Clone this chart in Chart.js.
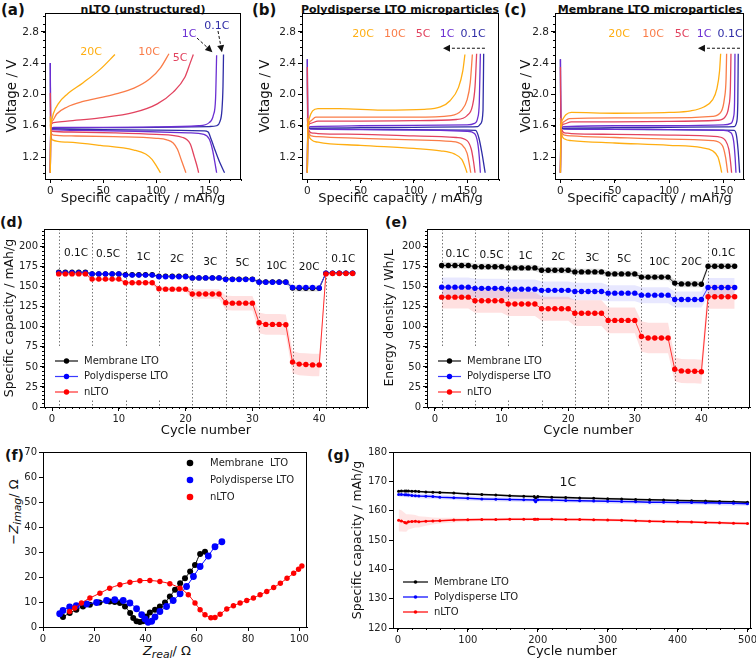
<!DOCTYPE html>
<html>
<head>
<meta charset="utf-8">
<script src="https://cdn.jsdelivr.net/npm/chart.js@4.4.0/dist/chart.umd.min.js"></script>
<style>
  body { margin:0; background:#fff; width:756px; height:660px; position:relative; overflow:hidden; font-family:"DejaVu Sans", sans-serif; color:#111; }
  canvas { position:absolute; }
  .lbl { position:absolute; font-weight:bold; font-size:15px; line-height:1; }
  .ttl { position:absolute; font-weight:bold; font-size:11px; text-align:center; white-space:nowrap; }
  .axt { position:absolute; font-size:13px; white-space:nowrap; }
</style>
</head>
<body>
<div class="lbl" style="left:1px;top:3px">(a)</div>
<div class="lbl" style="left:252px;top:3px">(b)</div>
<div class="lbl" style="left:504px;top:3px">(c)</div>
<div class="lbl" style="left:0px;top:215px;font-size:14px">(d)</div>
<div class="lbl" style="left:385px;top:215px;font-size:14px">(e)</div>
<div class="lbl" style="left:5px;top:448px;font-size:14px">(f)</div>
<div class="lbl" style="left:327px;top:448px;font-size:14px">(g)</div>
<div class="ttl" style="left:43px;width:200px;top:3px">nLTO (unstructured)</div>
<div class="ttl" style="left:300px;width:200px;top:3px">Polydisperse LTO microparticles</div>
<div class="ttl" style="left:550px;width:200px;top:3px">Membrane LTO microparticles</div>
<div class="axt" style="left:167px;top:652px;transform:translate(-50%,-50%)"><i>Z</i><sub><i>real</i></sub>/ Ω</div>
<div class="axt" style="left:15px;top:512px;transform:translate(-50%,-50%) rotate(-90deg)">−<i>Z</i><sub><i>imag</i></sub>/ Ω</div>

<canvas id="ca" width="250" height="208" style="left:0;top:0"></canvas>
<canvas id="cb" width="250" height="208" style="left:255px;top:0"></canvas>
<canvas id="cc" width="240" height="208" style="left:516px;top:0"></canvas>
<canvas id="cd" width="378" height="240" style="left:0;top:200px"></canvas>
<canvas id="ce" width="376" height="240" style="left:380px;top:200px"></canvas>
<canvas id="cf" width="320" height="220" style="left:0;top:440px"></canvas>
<canvas id="cg" width="408" height="220" style="left:348px;top:440px"></canvas>

<script>
// rates used in panels a-c
const rateNames = ['20C', '10C', '5C', '1C', '0.1C'];
const rateColors = ['#ffae12', '#fa7c48', '#e2435f', '#6b2fd2', '#2e2ca6'];

// (a) nLTO voltage curves, [capacity mAh/g, voltage V]
const nlto20Ch = [[0,1.0],[0.5,1.6],[1.5,1.68],[3,1.76],[8,1.89],[15.7,2.0],[31,2.15],[47,2.32],[61,2.51]];
const nlto20Dis = [[0,1.72],[0.5,1.5],[2,1.42],[16,1.39],[47,1.35],[79,1.29],[90,1.24],[96,1.17],[100,1.09],[104,1.0]];
const nlto10Ch = [[0,1.0],[0.5,1.58],[2,1.66],[6,1.75],[16,1.84],[31,1.91],[47,1.96],[63,2.01],[79,2.08],[94,2.2],[104,2.34],[112,2.52]];
const nlto10Dis = [[0,1.62],[0.5,1.52],[3,1.48],[20,1.47],[60,1.46],[100,1.44],[110,1.42],[116,1.38],[120,1.3],[124,1.15],[128,1.0]];
const nlto5Ch = [[0,1.0],[0.5,1.6],[3,1.64],[16,1.66],[47,1.7],[79,1.77],[101,1.88],[116,2.03],[127,2.22],[132,2.4],[135,2.51]];
const nlto5Dis = [[0,2.02],[0.4,1.6],[2,1.53],[20,1.52],[60,1.51],[100,1.49],[125,1.45],[132,1.37],[136,1.2],[139,1.06],[140,1.0]];
const nlto1Ch = [[0,1.0],[0.4,1.55],[3,1.58],[50,1.58],[100,1.585],[140,1.6],[150,1.64],[154,1.74],[156,1.95],[157,2.5]];
const nlto1Dis = [[0,2.4],[0.3,1.65],[2,1.55],[30,1.54],[80,1.53],[130,1.51],[145,1.49],[150,1.43],[153,1.3],[155.5,1.12],[157,1.0]];
const nlto01Ch = [[0,1.0],[0.4,1.55],[3,1.57],[50,1.575],[100,1.58],[150,1.59],[157,1.6],[160,1.65],[162,1.8],[163,2.1],[163.5,2.51]];
const nlto01Dis = [[0,2.4],[0.3,1.62],[2,1.56],[50,1.55],[100,1.545],[145,1.535],[149,1.52],[152,1.42],[156,1.27],[160,1.13],[164.5,1.0]];

// (b) polydisperse LTO
const pd20Ch = [[0,1.0],[0.5,1.5],[2,1.7],[5,1.79],[10,1.82],[30,1.82],[70,1.8],[110,1.81],[125,1.84],[134,1.92],[142,2.09],[146,2.3],[148,2.51]];
const pd20Dis = [[0,1.62],[1,1.5],[4,1.42],[10,1.39],[50,1.35],[100,1.31],[125,1.28],[138,1.24],[145,1.17],[148,1.08],[150,1.0]];
const pd10Ch = [[0,1.0],[0.5,1.55],[3,1.66],[8,1.71],[50,1.71],[100,1.71],[135,1.73],[145,1.8],[150,1.93],[153,2.15],[155,2.51]];
const pd10Dis = [[0,1.7],[1,1.52],[4,1.47],[10,1.46],[50,1.44],[100,1.42],[135,1.4],[145,1.36],[150,1.25],[152,1.12],[153.5,1.0]];
const pd5Ch = [[0,1.0],[0.5,1.57],[3,1.63],[10,1.66],[50,1.66],[100,1.665],[140,1.68],[150,1.73],[155,1.85],[157.5,2.1],[159,2.52]];
const pd5Dis = [[0,2.35],[0.5,1.6],[4,1.51],[10,1.5],[50,1.49],[100,1.47],[140,1.45],[150,1.41],[154,1.3],[156,1.15],[157.5,1.0]];
const pd1Ch = [[0,1.0],[0.5,1.56],[3,1.59],[50,1.6],[100,1.605],[150,1.61],[157,1.63],[160,1.7],[161.5,1.9],[162.5,2.52]];
const pd1Dis = [[0,2.45],[0.4,1.62],[3,1.56],[50,1.55],[100,1.545],[150,1.53],[157,1.5],[160,1.38],[161.5,1.2],[162.5,1.0]];
const pd01Ch = [[0,1.0],[0.4,1.55],[3,1.57],[50,1.575],[100,1.58],[150,1.585],[160,1.59],[163,1.63],[165,1.8],[165.6,2.52]];
const pd01Dis = [[0,2.45],[0.3,1.62],[3,1.56],[50,1.555],[100,1.55],[150,1.545],[158,1.54],[161,1.45],[164,1.25],[167,1.0]];

// (c) membrane LTO
const mb20Ch = [[0,1.0],[0.5,1.55],[2,1.68],[5,1.74],[10,1.77],[50,1.76],[100,1.77],[120,1.79],[132,1.84],[140,1.93],[144,2.07],[146.5,2.3],[147.5,2.52]];
const mb20Dis = [[0,1.62],[1,1.5],[4,1.43],[10,1.41],[50,1.38],[100,1.35],[130,1.32],[140,1.28],[145,1.2],[147,1.1],[148.5,1.0]];
const mb10Ch = [[0,1.0],[0.5,1.55],[3,1.65],[8,1.69],[50,1.7],[100,1.7],[140,1.72],[148,1.78],[151,1.95],[152.5,2.2],[153,2.52]];
const mb10Dis = [[0,1.7],[1,1.52],[4,1.48],[10,1.47],[50,1.45],[100,1.43],[140,1.41],[149,1.35],[152,1.2],[154,1.0]];
const mb5Ch = [[0,1.0],[0.5,1.57],[3,1.62],[10,1.65],[50,1.65],[100,1.655],[145,1.67],[152,1.72],[155,1.85],[156.5,2.1],[157,2.52]];
const mb5Dis = [[0,2.35],[0.5,1.6],[4,1.51],[10,1.5],[50,1.49],[100,1.48],[145,1.46],[152,1.41],[155,1.3],[156.5,1.15],[157.6,1.0]];
const mb1Ch = [[0,1.0],[0.5,1.56],[3,1.59],[50,1.6],[100,1.6],[150,1.61],[157,1.63],[159.5,1.72],[160.3,1.9],[160.7,2.52]];
const mb1Dis = [[0,2.45],[0.4,1.62],[3,1.56],[50,1.555],[100,1.55],[150,1.54],[157,1.51],[159.5,1.4],[160.8,1.2],[161.6,1.0]];
const mb01Ch = [[0,1.0],[0.4,1.55],[3,1.57],[50,1.575],[100,1.58],[150,1.585],[160,1.59],[162.3,1.65],[163.3,1.9],[163.7,2.52]];
const mb01Dis = [[0,2.45],[0.3,1.62],[3,1.56],[50,1.555],[100,1.55],[150,1.545],[160,1.54],[162,1.48],[163.5,1.3],[165,1.0]];

// (d) specific capacity vs cycle (mAh/g), 5 cycles per rate
const rateSteps = ['0.1C', '0.5C', '1C', '2C', '3C', '5C', '10C', '20C', '0.1C'];
const rateStarts = [1, 6, 11, 16, 21, 26, 31, 36, 41];
const dMem = [168,168,168,168,168, 166,166,166,166,166, 165,165,165,165,165, 163,163,163,163,163, 161,161,161,161,161, 159.5,159.5,159.5,159.5,159.5, 156,156,156,156,156, 148.5,148,148,148,148, 167,167,167,167,167];
const dPoly = [167.5,167.5,167.5,167.5,167.5, 166,166,166,166,166, 164.5,164.5,164.5,164.5,164.5, 162.5,162.5,162.5,162.5,162.5, 161,161,161,161,161, 159,159,159,159,159, 155.5,155.5,155.5,155.5,155.5, 149,149,149,149,148.5, 167,167,167,167,167];
const dNlto = [166,166,166,166,166, 159.5,159.5,159.5,159.5,159.5, 155,155,155,155,155, 147.5,147,147,147,147, 141,141,141,141,141, 130,129.5,129.5,129.5,129.5, 105,103,103,103,102.5, 56,53.5,53,52.5,52.5, 166,166.5,166.5,166.5,166.5];
const dMemStd = [1.5, 1.5, 1.5, 1.5, 2, 2, 2.5, 4, 1.5];
const dPolyStd = [1, 1, 1, 1, 1, 1, 1.5, 2, 1];
const dNltoStd = [2, 2, 2.5, 3, 6, 9, 13, 14, 2];

// (e) energy density vs cycle (Wh/L)
const eMem = [176.5,176.5,176.5,176.5,176.5, 175,175,175,175,175, 173.5,173.5,173.5,173.5,173.5, 170.5,170.5,170.5,170.5,170.5, 168.5,168.5,168.5,168.5,168.5, 166,166,166,166,166, 162,162,162,162,162, 154.5,153.5,153.5,153.5,153, 175.5,175.5,175.5,175.5,175.5];
const ePoly = [149.5,149.5,149.5,149.5,149.5, 148,148,148,148,148, 147,147,147,147,147, 145.5,145.5,145.5,145.5,145.5, 144,144,144,144,144, 142,142,142,142,142, 139.5,139.5,139.5,139.5,139.5, 134,134,134,134,134, 149,149,149,149,149];
const eNlto = [137,137,137,137,137, 132.5,132.5,132.5,132.5,132.5, 128.5,128.5,128.5,128.5,128.5, 122.5,122.5,122.5,122.5,122.5, 117,117,117,117,117, 108,108,108,108,108, 88,86,86,86,86, 47,45,44.5,44.5,44, 137.5,137.5,137.5,137.5,137.5];
const eMemStd = [4, 4, 4, 4, 4, 4, 4, 4, 4];
const ePolyStd = [12, 12, 12, 11, 11, 10, 10, 10, 12];
const eNltoStd = [14, 15, 15, 15, 16, 16, 19, 15, 15];

// (f) Nyquist plot, [Z_real, -Z_imag] in ohm
const fMem = [[7.8,4.0],[10.4,5.6],[13,6.9],[15.6,8.2],[18.3,8.9],[22,9.8],[26,10.2],[28,10],[30,9.6],[32,8.2],[34,5.6],[35.2,3.6],[36.5,2.3],[37.8,2],[39,2.3],[40.4,4.2],[41.7,5.8],[43.7,6.9],[45.6,8.2],[47.6,9.8],[49.5,12.2],[51.5,14.9],[53.5,17.5],[55.4,19.5],[57.4,22.2],[59.3,24.8],[61.3,29.2],[63.2,30.1]];
const fPoly = [[6.5,5.3],[7.8,6.6],[10.4,8],[13,8.5],[17,9.2],[20.9,9.8],[24.8,10.6],[28,10.9],[31.3,10.6],[33.9,9.6],[36.5,7.3],[38.5,4.9],[39.8,3.2],[41,1.9],[42.4,2.3],[43.7,4],[45.6,6.2],[48.2,8.2],[50.8,10.6],[53.5,13.3],[56,16.2],[58.7,20.2],[61.3,24.2],[64.5,28.4],[67.1,32.1],[69.8,34.1]];
const fNlto = [[10.4,6.2],[12.4,7.6],[15,9.6],[18.3,11.6],[22.2,13.5],[26,15.5],[30,16.9],[33.9,17.9],[37.8,18.5],[41.7,18.6],[45.6,18.2],[49.5,17.3],[53.5,15.5],[56.7,12.9],[59.3,9.6],[61.3,6.9],[63.2,4.9],[65.5,3.7],[67.1,3.8],[69.1,5.1],[71.7,7.2],[74.3,8.5],[76.9,9.6],[79.5,10.6],[82.1,11.6],[84.7,12.9],[87.3,14.2],[90,15.8],[92.6,17.5],[95.2,19.5],[97.8,21.5],[99.7,23.1],[101,24.4]];

// (g) long cycling at 1C
const gCycles = [1,5,10,12,15,20,25,30,40,50,60,80,100,120,140,160,180,195,197,200,220,240,260,280,300,320,340,360,380,400,420,440,460,480,500];
const gMem = [166.6,166.7,166.7,166.7,166.7,166.6,166.6,166.5,166.4,166.3,166.2,166.0,165.7,165.5,165.3,165.1,164.9,164.8,164.3,164.8,164.6,164.5,164.3,164.2,164.1,164.0,163.8,163.7,163.6,163.5,163.4,163.3,163.1,163.0,162.9];
const gPoly = [165.5,165.5,165.4,165.4,165.3,165.2,165.1,165.0,164.9,164.8,164.6,164.4,164.2,164.0,163.9,163.8,163.7,163.6,163.0,163.7,163.6,163.5,163.4,163.3,163.2,163.1,163.0,162.9,162.9,162.8,162.8,162.7,162.6,162.5,162.4];
const gNlto = [156.7,156.5,156.0,155.8,156.2,156.3,156.4,156.2,156.4,156.5,156.6,156.8,156.9,157.0,157.0,157.1,157.1,157.1,157.1,157.1,157.1,157.0,157.0,156.9,156.8,156.7,156.6,156.4,156.3,156.2,156.1,156.0,155.9,155.7,155.6];
const gNltoStd = [3.8,3.6,3.2,3.0,2.6,2.4,2.1,1.9,1.5,1.2,1.0,0.8,0.6,0.5,0.5,0.5,0.5,0.5,0.5,0.5,0.5,0.5,0.5,0.5,0.5,0.5,0.5,0.5,0.5,0.5,0.5,0.5,0.5,0.5,0.5];
const gPolyStd = 0.8;
const gMemStd = 0.4;

Chart.defaults.font.family = '"DejaVu Sans", sans-serif';
Chart.defaults.color = '#222';
Chart.defaults.animation = false;

// axis helper: fixed size so the plot box lands where the figure has it
function axis(o) {
  return {
    type: 'linear', min: o.min, max: o.max, position: o.pos,
    afterBuildTicks: s => { s.ticks = o.ticks.map(v => ({ value: v })); },
    afterFit: s => {
      if (o.pos === 'left') s.width = o.size; else s.height = o.size;
      s.paddingLeft = s.paddingRight = s.paddingTop = s.paddingBottom = 0;
    },
    ticks: { font: { size: o.fs }, color: '#222', padding: 2, maxRotation: 0, autoSkip: false,
             callback: o.fmt || (v => v) },
    grid: { drawOnChartArea: false, drawTicks: true, tickLength: 4, tickColor: '#000' },
    border: { color: '#000', width: 1 },
    title: o.title ? { display: true, text: o.title, font: { size: o.tfs }, color: '#111',
                       padding: { top: o.tpad || 2, bottom: o.tpad || 2 } } : { display: false }
  };
}

// box around the plot area
const frame = {
  id: 'frame',
  afterDatasetsDraw(chart) {
    const { ctx, chartArea: ca } = chart;
    ctx.save();
    ctx.strokeStyle = '#000';
    ctx.lineWidth = 1;
    ctx.strokeRect(Math.round(ca.left) + 0.5, Math.round(ca.top) + 0.5, Math.round(ca.width) - 1, Math.round(ca.height));
    ctx.restore();
  }
};

// small minor ticks on bottom/left
const minor = {
  id: 'minor',
  afterDraw(chart, a, o) {
    if (!o || (!o.x && !o.y)) return;
    const { ctx, chartArea: ca, scales } = chart;
    ctx.save();
    ctx.strokeStyle = '#000';
    ctx.lineWidth = 1;
    if (o.x) {
      const s = scales.x;
      for (let k = Math.ceil(s.min / o.x); k * o.x <= s.max; k++) {
        const p = Math.round(s.getPixelForValue(k * o.x)) + 0.5;
        ctx.beginPath(); ctx.moveTo(p, ca.bottom); ctx.lineTo(p, ca.bottom + 2); ctx.stroke();
      }
    }
    if (o.y) {
      const s = scales.y;
      for (let k = Math.ceil(s.min / o.y); k * o.y <= s.max; k++) {
        const p = Math.round(s.getPixelForValue(k * o.y)) + 0.5;
        ctx.beginPath(); ctx.moveTo(ca.left, p); ctx.lineTo(ca.left - 2, p); ctx.stroke();
      }
    }
    ctx.restore();
  }
};

// dotted rate separators
const vlines = {
  id: 'vlines',
  beforeDatasetsDraw(chart, a, o) {
    if (!o || !o.at) return;
    const { ctx, chartArea: ca, scales } = chart;
    ctx.save();
    ctx.strokeStyle = '#777';
    ctx.lineWidth = 1;
    ctx.setLineDash([1.5, 2]);
    o.at.forEach(v => {
      const p = Math.round(scales.x.getPixelForValue(v)) + 0.5;
      ctx.beginPath(); ctx.moveTo(p, ca.top); ctx.lineTo(p, ca.bottom); ctx.stroke();
    });
    ctx.restore();
  }
};

// text labels and dashed arrows placed in data coordinates
const notes = {
  id: 'notes',
  afterDatasetsDraw(chart, a, o) {
    if (!o) return;
    const { ctx, scales: { x, y } } = chart;
    ctx.save();
    ctx.textAlign = 'center';
    ctx.textBaseline = 'middle';
    (o.texts || []).forEach(t => {
      ctx.font = (t.size || 11) + 'px "DejaVu Sans"';
      ctx.fillStyle = t.color || '#111';
      ctx.fillText(t.text, x.getPixelForValue(t.x), y.getPixelForValue(t.y));
    });
    (o.arrows || []).forEach(r => {
      const x1 = x.getPixelForValue(r.x1), y1 = y.getPixelForValue(r.y1);
      const x2 = x.getPixelForValue(r.x2), y2 = y.getPixelForValue(r.y2);
      const ang = Math.atan2(y2 - y1, x2 - x1);
      ctx.strokeStyle = '#111';
      ctx.fillStyle = '#111';
      ctx.lineWidth = 1;
      ctx.setLineDash([3, 2]);
      ctx.beginPath(); ctx.moveTo(x1, y1); ctx.lineTo(x2 - 5 * Math.cos(ang), y2 - 5 * Math.sin(ang)); ctx.stroke();
      ctx.setLineDash([]);
      ctx.beginPath();
      ctx.moveTo(x2, y2);
      ctx.lineTo(x2 - 7 * Math.cos(ang) + 3.5 * Math.sin(ang), y2 - 7 * Math.sin(ang) - 3.5 * Math.cos(ang));
      ctx.lineTo(x2 - 7 * Math.cos(ang) - 3.5 * Math.sin(ang), y2 - 7 * Math.sin(ang) + 3.5 * Math.cos(ang));
      ctx.closePath(); ctx.fill();
    });
    ctx.restore();
  }
};

// matplotlib-like legend drawn inside the plot
const leg = {
  id: 'leg',
  afterDatasetsDraw(chart, a, o) {
    if (!o || !o.items) return;
    const { ctx, chartArea: ca } = chart;
    const baseY = o.anchor === 'top' ? ca.top : ca.bottom;
    ctx.save();
    if (o.bg) {
      ctx.fillStyle = '#fff';
      ctx.fillRect(ca.left + o.bg[0], baseY + o.bg[1], o.bg[2], o.bg[3]);
    }
    ctx.font = o.size + 'px "DejaVu Sans"';
    ctx.textBaseline = 'middle';
    ctx.textAlign = 'left';
    o.items.forEach((idx, k) => {
      const ds = chart.data.datasets[idx];
      const y = baseY + o.y0 + k * o.dy;
      const x = ca.left + o.x0;
      const len = o.lineLen || 0;
      if (len) {
        ctx.strokeStyle = ds.borderColor;
        ctx.lineWidth = 1.2;
        ctx.beginPath(); ctx.moveTo(x, y); ctx.lineTo(x + len, y); ctx.stroke();
      }
      ctx.fillStyle = ds.pointBackgroundColor;
      ctx.beginPath(); ctx.arc(x + len / 2, y, o.r, 0, Math.PI * 2); ctx.fill();
      ctx.fillStyle = '#222';
      ctx.fillText(ds.label, x + o.tx, y);
    });
    ctx.restore();
  }
};

const allPlugins = [frame, minor, vlines, notes, leg];

// ---------- panels (a)-(c) ----------
function voltagePanel(id, charge, discharge, layout, xmax, texts, arrows) {
  const datasets = [];
  [charge, discharge].forEach(group => group.forEach((curve, i) => {
    datasets.push({
      data: curve, borderColor: rateColors[i], borderWidth: 1.3, pointRadius: 0,
      cubicInterpolationMode: 'monotone', fill: false
    });
  }));
  new Chart(document.getElementById(id), {
    type: 'line',
    data: { datasets },
    plugins: allPlugins,
    options: {
      responsive: false, devicePixelRatio: 1,
      layout: { padding: { top: 13, right: layout.right, left: 0, bottom: 0 } },
      scales: {
        x: axis({ pos: 'bottom', min: -5, max: xmax, ticks: [0, 50, 100, 150], size: 29, fs: 10.5,
                  title: 'Specific capacity / mAh/g', tfs: 13 }),
        y: axis({ pos: 'left', min: 0.92, max: 3.04, ticks: [1.2, 1.6, 2.0, 2.4, 2.8], size: layout.yw, fs: 10.5,
                  fmt: v => v.toFixed(1), title: 'Voltage / V', tfs: 13.5, tpad: layout.tpad })
      },
      plugins: {
        legend: { display: false }, tooltip: { enabled: false },
        minor: { x: 10, y: 0.1 },
        notes: { texts, arrows }
      }
    }
  });
}

const labelTexts = (xs, ys) => rateNames.map((n, i) => ({ x: xs[i], y: ys[i], text: n, color: rateColors[i], size: 11 }));

voltagePanel('ca',
  [nlto20Ch, nlto10Ch, nlto5Ch, nlto1Ch, nlto01Ch],
  [nlto20Dis, nlto10Dis, nlto5Dis, nlto1Dis, nlto01Dis],
  { right: 9, yw: 45, tpad: 4 }, 180,
  labelTexts([38.4, 93.2, 122.4, 130.9, 157.3], [2.54, 2.54, 2.465, 2.77, 2.87]),
  [{ x1: 138.5, y1: 2.72, x2: 153, y2: 2.54 }, { x1: 158.3, y1: 2.81, x2: 162, y2: 2.54 }]);

voltagePanel('cb',
  [pd20Ch, pd10Ch, pd5Ch, pd1Ch, pd01Ch],
  [pd20Dis, pd10Dis, pd5Dis, pd1Dis, pd01Dis],
  { right: 6, yw: 47, tpad: 2 }, 180,
  labelTexts([52.3, 82.3, 108.6, 131.2, 155.6], [2.77, 2.77, 2.77, 2.77, 2.77]),
  [{ x1: 166.8, y1: 2.59, x2: 127.4, y2: 2.59 }]);

voltagePanel('cc',
  [mb20Ch, mb10Ch, mb5Ch, mb1Ch, mb01Ch],
  [mb20Dis, mb10Dis, mb5Dis, mb1Dis, mb01Dis],
  { right: 12, yw: 39, tpad: 2 }, 169,
  labelTexts([53.9, 85.2, 111.9, 132.2, 156.1], [2.77, 2.77, 2.77, 2.77, 2.77]),
  [{ x1: 165.3, y1: 2.59, x2: 126.6, y2: 2.59 }]);

// ---------- panels (d), (e) ----------
const cycles = dMem.map((v, i) => i + 1);
const pts = (ys) => ys.map((v, i) => ({ x: cycles[i], y: v }));
const band = (ys, std, sign) => ys.map((v, i) => ({ x: cycles[i], y: v + sign * std[Math.floor(i / 5)] }));

function ratePanel(id, mem, memStd, poly, polyStd, nlto, nltoStd, layout, title, labelXs, labelYs) {
  const series = (label, ys, color, lineColor) => ({
    label, data: pts(ys), borderColor: lineColor, borderWidth: 1, pointRadius: 2.7,
    pointBackgroundColor: color, pointBorderColor: color, pointBorderWidth: 0, fill: false, tension: 0
  });
  const bandSet = (ys, std, color) => [
    { data: band(ys, std, 1), borderWidth: 0, pointRadius: 0, fill: false, tension: 0 },
    { data: band(ys, std, -1), borderWidth: 0, pointRadius: 0, fill: '-1', backgroundColor: color, tension: 0 }
  ];
  const datasets = [
    series('nLTO', nlto, '#ff0000', '#ff3030'),
    series('Polydisperse LTO', poly, '#0000ff', '#3a3aff'),
    series('Membrane LTO', mem, '#000000', '#111'),
    ...bandSet(nlto, nltoStd, 'rgba(255,0,0,0.12)'),
    ...bandSet(poly, polyStd, 'rgba(0,0,255,0.09)'),
    ...bandSet(mem, memStd, 'rgba(0,0,0,0.13)')
  ];
  new Chart(document.getElementById(id), {
    type: 'line',
    data: { datasets },
    plugins: allPlugins,
    options: {
      responsive: false, devicePixelRatio: 1,
      layout: { padding: { top: 29, right: layout.right, left: 0, bottom: 0 } },
      scales: {
        x: axis({ pos: 'bottom', min: -1.2, max: 47.3, ticks: [0, 10, 20, 30, 40], size: 33, fs: 10,
                  title: 'Cycle number', tfs: 13, tpad: 2 }),
        y: axis({ pos: 'left', min: 0, max: 222, ticks: [0, 25, 50, 75, 100, 125, 150, 175, 200], size: layout.yw, fs: 10,
                  title, tfs: 12.5, tpad: 2 })
      },
      plugins: {
        legend: { display: false }, tooltip: { enabled: false },
        minor: { x: 1, y: 5 },
        vlines: { at: rateStarts },
        notes: { texts: rateSteps.map((n, i) => ({ x: labelXs[i], y: labelYs[i], text: n, size: 10.5, color: '#111' })) },
        leg: { items: [2, 1, 0], anchor: 'bottom', x0: 11, y0: -46, dy: 15.5, lineLen: 23, r: 2.7, tx: 29, size: 10,
               bg: [3, -60, 131, 52] }
      }
    }
  });
}

ratePanel('cd', dMem, dMemStd, dPoly, dPolyStd, dNlto, dNltoStd, { right: 10, yw: 44 },
  'Specific capacity / mAh/g',
  [3.6, 8.4, 13.7, 18.7, 23.7, 28.5, 33.6, 38.5, 43.6],
  [192, 191, 186.6, 184.6, 180.4, 179.1, 175.9, 174.1, 184.6]);

ratePanel('ce', eMem, eMemStd, ePoly, ePolyStd, eNlto, eNltoStd, { right: 6, yw: 47 },
  'Energy density / Wh/L',
  [3.4, 8.5, 13.6, 18.5, 23.6, 28.4, 33.7, 38.5, 43.3],
  [191, 188.8, 187.9, 187.1, 185.9, 183.8, 180.4, 180.4, 192]);

// ---------- panel (f) ----------
const nyq = (label, data, color, r) => ({
  label, data, borderColor: color, borderWidth: 1, pointRadius: r, pointBackgroundColor: color,
  pointBorderWidth: 0, showLine: true, fill: false, tension: 0.3
});
new Chart(document.getElementById('cf'), {
  type: 'line',
  data: { datasets: [nyq('nLTO', fNlto, '#ff0000', 2.7), nyq('Polydisperse LTO', fPoly, '#0000ff', 3.4), nyq('Membrane  LTO', fMem, '#000000', 3)] },
  plugins: allPlugins,
  options: {
    responsive: false, devicePixelRatio: 1,
    layout: { padding: { top: 12, right: 13, left: 0, bottom: 0 } },
    scales: {
      x: axis({ pos: 'bottom', min: 0, max: 103, ticks: [0, 20, 40, 60, 80, 100], size: 33, fs: 10 }),
      y: axis({ pos: 'left', min: 0, max: 70, ticks: [0, 10, 20, 30, 40, 50, 60, 70], size: 43, fs: 10 })
    },
    plugins: {
      legend: { display: false }, tooltip: { enabled: false },
      leg: { items: [2, 1, 0], anchor: 'top', x0: 147, y0: 11, dy: 17, lineLen: 0, r: 3.3, tx: 20, size: 10 }
    }
  }
});

// ---------- panel (g) ----------
const gSeries = (label, ys, color) => ({
  label, data: ys.map((v, i) => ({ x: gCycles[i], y: v })), borderColor: color, borderWidth: 1.5,
  pointRadius: 1.5, pointBackgroundColor: color, pointBorderWidth: 0, fill: false, tension: 0
});
const gBand = (ys, std, color) => [
  { data: ys.map((v, i) => ({ x: gCycles[i], y: v + (Array.isArray(std) ? std[i] : std) })), borderWidth: 0, pointRadius: 0, fill: false },
  { data: ys.map((v, i) => ({ x: gCycles[i], y: v - (Array.isArray(std) ? std[i] : std) })), borderWidth: 0, pointRadius: 0, fill: '-1', backgroundColor: color }
];
new Chart(document.getElementById('cg'), {
  type: 'line',
  data: { datasets: [
    gSeries('nLTO', gNlto, '#ff0000'),
    gSeries('Polydisperse LTO', gPoly, '#0000ff'),
    gSeries('Membrane LTO', gMem, '#000000'),
    ...gBand(gNlto, gNltoStd, 'rgba(255,0,0,0.1)'),
    ...gBand(gPoly, gPolyStd, 'rgba(0,0,255,0.1)'),
    ...gBand(gMem, gMemStd, 'rgba(0,0,0,0.1)')
  ] },
  plugins: allPlugins,
  options: {
    responsive: false, devicePixelRatio: 1,
    layout: { padding: { top: 12, right: 5, left: 0, bottom: 0 } },
    scales: {
      x: axis({ pos: 'bottom', min: -7, max: 505, ticks: [0, 100, 200, 300, 400, 500], size: 32, fs: 10,
                title: 'Cycle number', tfs: 13, tpad: 1 }),
      y: axis({ pos: 'left', min: 120, max: 180, ticks: [120, 130, 140, 150, 160, 170, 180], size: 45, fs: 10,
                title: 'Specific capacity / mAh/g', tfs: 12.5, tpad: 2 })
    },
    plugins: {
      legend: { display: false }, tooltip: { enabled: false },
      minor: { x: 20 },
      notes: { texts: [{ x: 243, y: 169.4, text: '1C', size: 12.5, color: '#111' }] },
      leg: { items: [2, 1, 0], anchor: 'bottom', x0: 10, y0: -46, dy: 15, lineLen: 25, r: 1.8, tx: 31, size: 10 }
    }
  }
});
</script>
</body>
</html>
